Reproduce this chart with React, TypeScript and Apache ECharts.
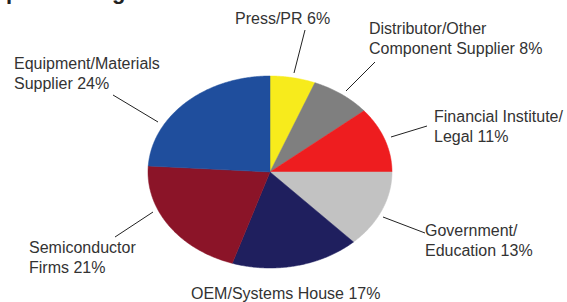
import React, { useEffect, useRef } from "react";
import * as echarts from "echarts";

const categories = [
  "Press/PR",
  "Distributor/Other\nComponent Supplier",
  "Financial Institute/\nLegal",
  "Government/\nEducation",
  "OEM/Systems House",
  "Semiconductor\nFirms",
  "Equipment/Materials\nSupplier",
];
const shares = [6, 8, 11, 13, 17, 21, 24];
const colors = ["#f7eb1c", "#7f7f7f", "#ee1d1f", "#c2c2c2", "#1f1f5e", "#8b1428", "#1f4e9d"];

// layout (not data): label anchor (left, first-line centre) and leader lines
const labelPos: [number, number][] = [
  [235, 18],
  [369, 28],
  [434, 116],
  [425, 230],
  [191, 293],
  [29, 247],
  [14, 63],
];
const leaders: ([number, number][] | null)[] = [
  [[305, 30], [294, 73]],
  [[375, 62], [346, 91]],
  [[427, 126], [391, 137]],
  [[425, 233], [383, 217]],
  null,
  [[115, 237], [153, 212]],
  [[113, 95], [158, 122]],
];

const CX = 270;
const CY = 172;
const RX = 122;
const RY = 96;

export default function App() {
  const ref = useRef<HTMLDivElement>(null);
  useEffect(() => {
    document.body.style.margin = "0";
    const chart = echarts.init(ref.current!, null, { renderer: "svg" });
    const total = shares.reduce((a, b) => a + b, 0);
    const starts: number[] = [];
    let acc = 0;
    shares.forEach((v) => {
      starts.push(acc);
      acc += v;
    });
    chart.setOption({
      animation: false,
      backgroundColor: "#ffffff",
      graphic: [
        {
          type: "text",
          x: 6,
          y: -9,
          style: { text: "p", font: "bold 22px 'Liberation Sans', Arial, sans-serif", fill: "#222", verticalAlign: "middle" },
        },
        {
          type: "text",
          x: 112,
          y: -9,
          style: { text: "g", font: "bold 22px 'Liberation Sans', Arial, sans-serif", fill: "#222", verticalAlign: "middle" },
        },
      ],
      series: [
        {
          type: "custom",
          coordinateSystem: "none",
          data: shares.map((v, i) => ({ value: v, name: categories[i] })),
          renderItem: (params: any, api: any) => {
            const i = params.dataIndex;
            const v = api.value(0);
            const a0 = (starts[i] / total) * Math.PI * 2;
            const a1 = ((starts[i] + v) / total) * Math.PI * 2;
            const pts: number[][] = [[CX, CY]];
            const steps = Math.max(4, Math.ceil((a1 - a0) / 0.01));
            for (let k = 0; k <= steps; k++) {
              const a = a0 + ((a1 - a0) * k) / steps;
              pts.push([CX + RX * Math.sin(a), CY - RY * Math.cos(a)]);
            }
            const children: any[] = [
              {
                type: "polygon",
                shape: { points: pts },
                style: { fill: colors[i], stroke: colors[i], lineWidth: 0.5 },
              },
              {
                type: "text",
                x: labelPos[i][0],
                y: labelPos[i][1] - 10,
                style: {
                  text: `${categories[i]} ${v}%`,
                  font: "16px 'Liberation Sans', Arial, sans-serif",
                  fill: "#333333",
                  lineHeight: 20,
                  verticalAlign: "top",
                  align: "left",
                },
              },
            ];
            const ld = leaders[i];
            if (ld) {
              children.push({
                type: "polyline",
                shape: { points: ld },
                style: { stroke: "#222222", lineWidth: 1, fill: "none" },
              });
            }
            return { type: "group", children };
          },
        },
      ],
    });
    return () => chart.dispose();
  }, []);
  return <div ref={ref} style={{ width: 567, height: 302 }} />;
}
